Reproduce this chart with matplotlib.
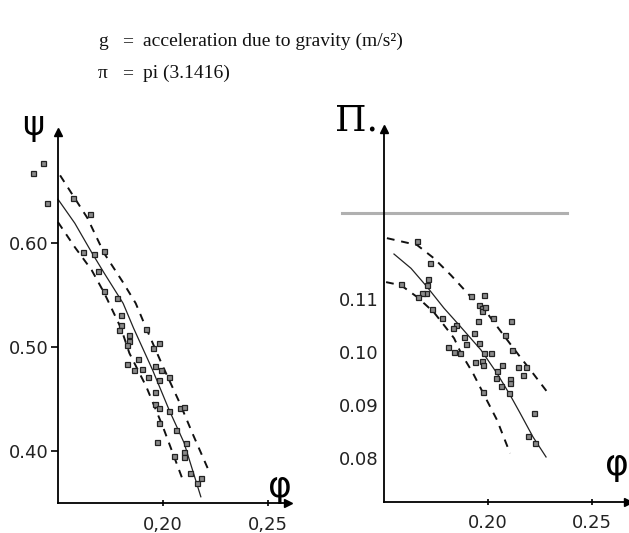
import numpy as np
import matplotlib
matplotlib.use("Agg")
import matplotlib.pyplot as plt

# ---- left panel: psi vs phi ----
L_pts_x = [0.138, 0.143, 0.145, 0.157, 0.165, 0.162, 0.167, 0.172, 0.169, 0.172,
           0.178, 0.180, 0.180, 0.179, 0.184, 0.184, 0.183, 0.192, 0.195, 0.198,
           0.183, 0.188, 0.186, 0.190, 0.193, 0.196, 0.199, 0.198, 0.203, 0.196,
           0.196, 0.198, 0.203, 0.208, 0.210, 0.198, 0.197, 0.206, 0.211, 0.210,
           0.210, 0.205, 0.213, 0.218, 0.216]
L_pts_y = [0.667, 0.677, 0.638, 0.643, 0.628, 0.591, 0.589, 0.592, 0.573, 0.554,
           0.547, 0.531, 0.521, 0.516, 0.512, 0.506, 0.502, 0.517, 0.499, 0.504,
           0.484, 0.488, 0.478, 0.479, 0.471, 0.482, 0.478, 0.468, 0.471, 0.457,
           0.445, 0.441, 0.438, 0.441, 0.442, 0.427, 0.409, 0.420, 0.408, 0.399,
           0.394, 0.395, 0.379, 0.374, 0.369]

L_fit_x = [0.150, 0.158, 0.166, 0.172, 0.181, 0.186, 0.195, 0.203, 0.210, 0.218]
L_fit_y = [0.642, 0.619, 0.591, 0.571, 0.542, 0.518, 0.478, 0.439, 0.408, 0.356]
L_up_x = [0.151, 0.164, 0.172, 0.181, 0.187, 0.192, 0.200, 0.208, 0.214, 0.222]
L_up_y = [0.665, 0.624, 0.590, 0.562, 0.542, 0.518, 0.481, 0.446, 0.417, 0.380]
L_lo_x = [0.150, 0.158, 0.166, 0.172, 0.180, 0.184, 0.192, 0.200, 0.210]
L_lo_y = [0.620, 0.596, 0.574, 0.552, 0.518, 0.494, 0.462, 0.423, 0.369]

L_yticks = [0.40, 0.50, 0.60]
L_ylabels = ["0.40", "0.50", "0.60"]
L_xticks = [0.20, 0.25]
L_xlabels = ["0,20", "0,25"]

# ---- right panel: Pi vs phi ----
R_pts_x = [0.1659, 0.1582, 0.1721, 0.1712, 0.1707, 0.1702, 0.1683, 0.1663, 0.1731, 0.1779,
           0.1846, 0.1832, 0.1808, 0.1837, 0.1865, 0.1885, 0.1894, 0.1933, 0.1938, 0.1918,
           0.1957, 0.1971, 0.1971, 0.1986, 0.1981, 0.1952, 0.1957, 0.1971, 0.1981, 0.1976,
           0.2014, 0.2024, 0.1976, 0.2043, 0.2038, 0.2067, 0.2062, 0.2082, 0.2106, 0.2106,
           0.2101, 0.2111, 0.2115, 0.2144, 0.2168, 0.2183, 0.2221, 0.2192, 0.2226]
R_pts_y = [0.1209, 0.1128, 0.1168, 0.1138, 0.1126, 0.1111, 0.1111, 0.1104, 0.1081, 0.1064,
           0.1051, 0.1045, 0.1009, 0.1000, 0.0998, 0.1028, 0.1015, 0.1036, 0.0981, 0.1106,
           0.1089, 0.1083, 0.1077, 0.1085, 0.1108, 0.1058, 0.1017, 0.0983, 0.0998, 0.0975,
           0.0998, 0.1064, 0.0925, 0.0964, 0.0951, 0.0975, 0.0936, 0.1032, 0.0949, 0.0942,
           0.0922, 0.1059, 0.1004, 0.0972, 0.0957, 0.0972, 0.0885, 0.0842, 0.0828]

R_fit_x = [0.1548, 0.1630, 0.1707, 0.1788, 0.1861, 0.1966, 0.2043, 0.2106, 0.2154, 0.2216, 0.2279]
R_fit_y = [0.1185, 0.1158, 0.1123, 0.1083, 0.1051, 0.1004, 0.0960, 0.0919, 0.0885, 0.0840, 0.0802]
R_up_x = [0.1514, 0.1659, 0.1740, 0.1822, 0.1918, 0.1995, 0.2067, 0.2154, 0.2216, 0.2284]
R_up_y = [0.1215, 0.1202, 0.1177, 0.1145, 0.1104, 0.1074, 0.1036, 0.0991, 0.0960, 0.0925]
R_lo_x = [0.1510, 0.1582, 0.1659, 0.1740, 0.1788, 0.1837, 0.1870, 0.1928, 0.1976, 0.2043, 0.2106]
R_lo_y = [0.1132, 0.1126, 0.1104, 0.1075, 0.1051, 0.1026, 0.0998, 0.0960, 0.0923, 0.0872, 0.0809]

# grey scan rule crossing the right panel
R_rule_x = [0.1298, 0.2380]
R_rule_y = [0.1262, 0.1262]

R_yticks = [0.08, 0.09, 0.10, 0.11]
R_ylabels = ["0.08", "0.09", "0.10", "0.11"]
R_xticks = [0.20, 0.25]
R_xlabels = ["0.20", "0.25"]

W, H = 629, 533
fig = plt.figure(figsize=(W / 100, H / 100), dpi=100)


def frame(box_px, xlim, ylim):
    l, t, r, b = box_px
    ax = fig.add_axes([l / W, (H - b) / H, (r - l) / W, (b - t) / H])
    ax.set_xlim(*xlim)
    ax.set_ylim(*ylim)
    ax.patch.set_alpha(0)
    for s in ("top", "right"):
        ax.spines[s].set_visible(False)
    for s in ("left", "bottom"):
        ax.spines[s].set_linewidth(1.3)
    # arrow heads
    ax.plot([1], [0], marker=">", ms=6, color="k", transform=ax.transAxes, clip_on=False)
    ax.plot([0], [1], marker="^", ms=6, color="k", transform=ax.transAxes, clip_on=False)
    return ax


def draw(ax, px, py, fx, fy, ux, uy, lx, ly):
    ax.plot(fx, fy, color="#222", lw=0.9, clip_on=False)
    ax.plot(ux, uy, color="#111", lw=1.4, dashes=(4, 3.5), clip_on=False)
    ax.plot(lx, ly, color="#111", lw=1.4, dashes=(4, 3.5), clip_on=False)
    ax.plot(px, py, "s", ms=3.6, mfc="#8a8a8a", mec="#222", mew=0.9, ls="none", clip_on=False)


tick_font = dict(family="DejaVu Sans", size=13, color="#222")

# left
axL = frame((58, 132, 288, 503), (0.15, 0.2595), (0.35, 0.7067))
draw(axL, L_pts_x, L_pts_y, L_fit_x, L_fit_y, L_up_x, L_up_y, L_lo_x, L_lo_y)
axL.set_yticks(L_yticks)
axL.set_yticklabels(L_ylabels, fontdict=tick_font)
axL.set_xticks(L_xticks)
axL.set_xticklabels(L_xlabels, fontdict=tick_font)
axL.tick_params(axis="y", direction="out", length=5, width=1.2, pad=2)
axL.tick_params(axis="x", direction="inout", length=5, width=1.2, pad=7)
axL.text(0.15 - 0.0118, 0.7128, "ψ", fontsize=24, ha="center", va="center", family="DejaVu Sans")
axL.text(0.2555, 0.365, "φ", fontsize=26, ha="center", va="center", family="DejaVu Sans")

# right
axR = frame((384, 129, 628, 502), (0.15, 0.2673), (0.0717, 0.1421))
draw(axR, R_pts_x, R_pts_y, R_fit_x, R_fit_y, R_up_x, R_up_y, R_lo_x, R_lo_y)
axR.plot(R_rule_x, R_rule_y, color="#b0b0b0", lw=2.2, clip_on=False)
axR.set_yticks(R_yticks)
axR.set_yticklabels(R_ylabels, fontdict=tick_font)
axR.set_xticks(R_xticks)
axR.set_xticklabels(R_xlabels, fontdict=tick_font)
axR.tick_params(axis="y", length=0, pad=4)
axR.tick_params(axis="x", direction="inout", length=4, width=1.2, pad=7)
axR.text(0.15 - 0.0130, 0.1437, "Π.", fontsize=26, ha="center", va="center", family="DejaVu Serif")
axR.text(0.2620, 0.0786, "φ", fontsize=26, ha="center", va="center", family="DejaVu Sans")

# header
hdr = dict(family="Liberation Serif", fontsize=14, color="#111", va="baseline")
fig.text(98 / W, 1 - 46 / H, "g", **hdr)
fig.text(122 / W, 1 - 46 / H, "=", **hdr)
fig.text(143 / W, 1 - 46 / H, "acceleration due to gravity (m/s²)", **hdr)
fig.text(98 / W, 1 - 78 / H, "π", **hdr)
fig.text(122 / W, 1 - 78 / H, "=", **hdr)
fig.text(143 / W, 1 - 78 / H, "pi (3.1416)", **hdr)

fig.savefig("out.png", dpi=100)
